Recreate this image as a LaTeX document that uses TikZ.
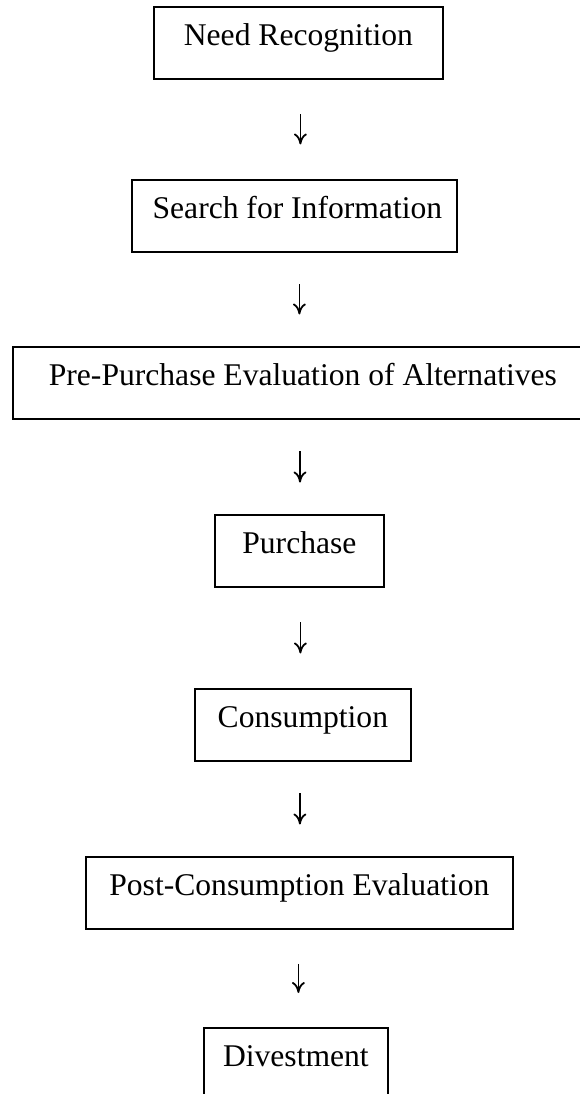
\documentclass[tikz,border=0pt]{standalone}
\usepackage{fontspec}
\setmainfont{Liberation Serif}
\usetikzlibrary{arrows.meta}
\tikzset{
  stagebox/.style={draw, line width=1.8pt, inner xsep=0pt, inner ysep=0pt,
    text height=39pt, text depth=33pt, anchor=north west,
    font=\fontsize{31.6pt}{38pt}\selectfont},
  flowarrow/.style={line width=1.8pt, -{To[length=11pt,width=13pt]}}
}
\begin{document}
\begin{tikzpicture}[x=1pt,y=-1pt]
\useasboundingbox (0,0) rectangle (579,1094);
\node[stagebox, minimum width=289pt] (n1) at (153,6) {Need Recognition};
\node[stagebox, minimum width=325pt] (n2) at (131,179) {\hspace*{6pt}Search for Information};
\node[stagebox, minimum width=580pt] (n3) at (12,346) {Pre-Purchase Evaluation of Alternatives};
\node[stagebox, minimum width=169pt] (n4) at (214,514) {Purchase};
\node[stagebox, minimum width=216pt] (n5) at (194,688) {Consumption};
\node[stagebox, minimum width=427pt] (n6) at (85,856) {Post-Consumption Evaluation};
\node[stagebox, minimum width=184pt] (n7) at (203,1027) {Divestment};
\draw[flowarrow, shorten <=34.5pt, shorten >=34.5pt] ([xshift=2pt]n1.south) -- ([xshift=2pt]n1.south |- n2.north);
\draw[flowarrow, shorten <=31.5pt, shorten >=31.5pt] ([xshift=5pt]n2.south) -- ([xshift=5pt]n2.south |- n3.north);
\draw[flowarrow, shorten <=31.5pt, shorten >=31.5pt] ([xshift=288pt]n3.south west) -- ([xshift=288pt]n3.south west |- n4.north);
\draw[flowarrow, shorten <=34.5pt, shorten >=34.5pt] ([xshift=1pt]n4.south) -- ([xshift=1pt]n4.south |- n5.north);
\draw[flowarrow, shorten <=31.5pt, shorten >=31.5pt] ([xshift=-3pt]n5.south) -- ([xshift=-3pt]n5.south |- n6.north);
\draw[flowarrow, shorten <=34pt, shorten >=34pt] ([xshift=-1pt]n6.south) -- ([xshift=-1pt]n6.south |- n7.north);
\end{tikzpicture}
\end{document}
